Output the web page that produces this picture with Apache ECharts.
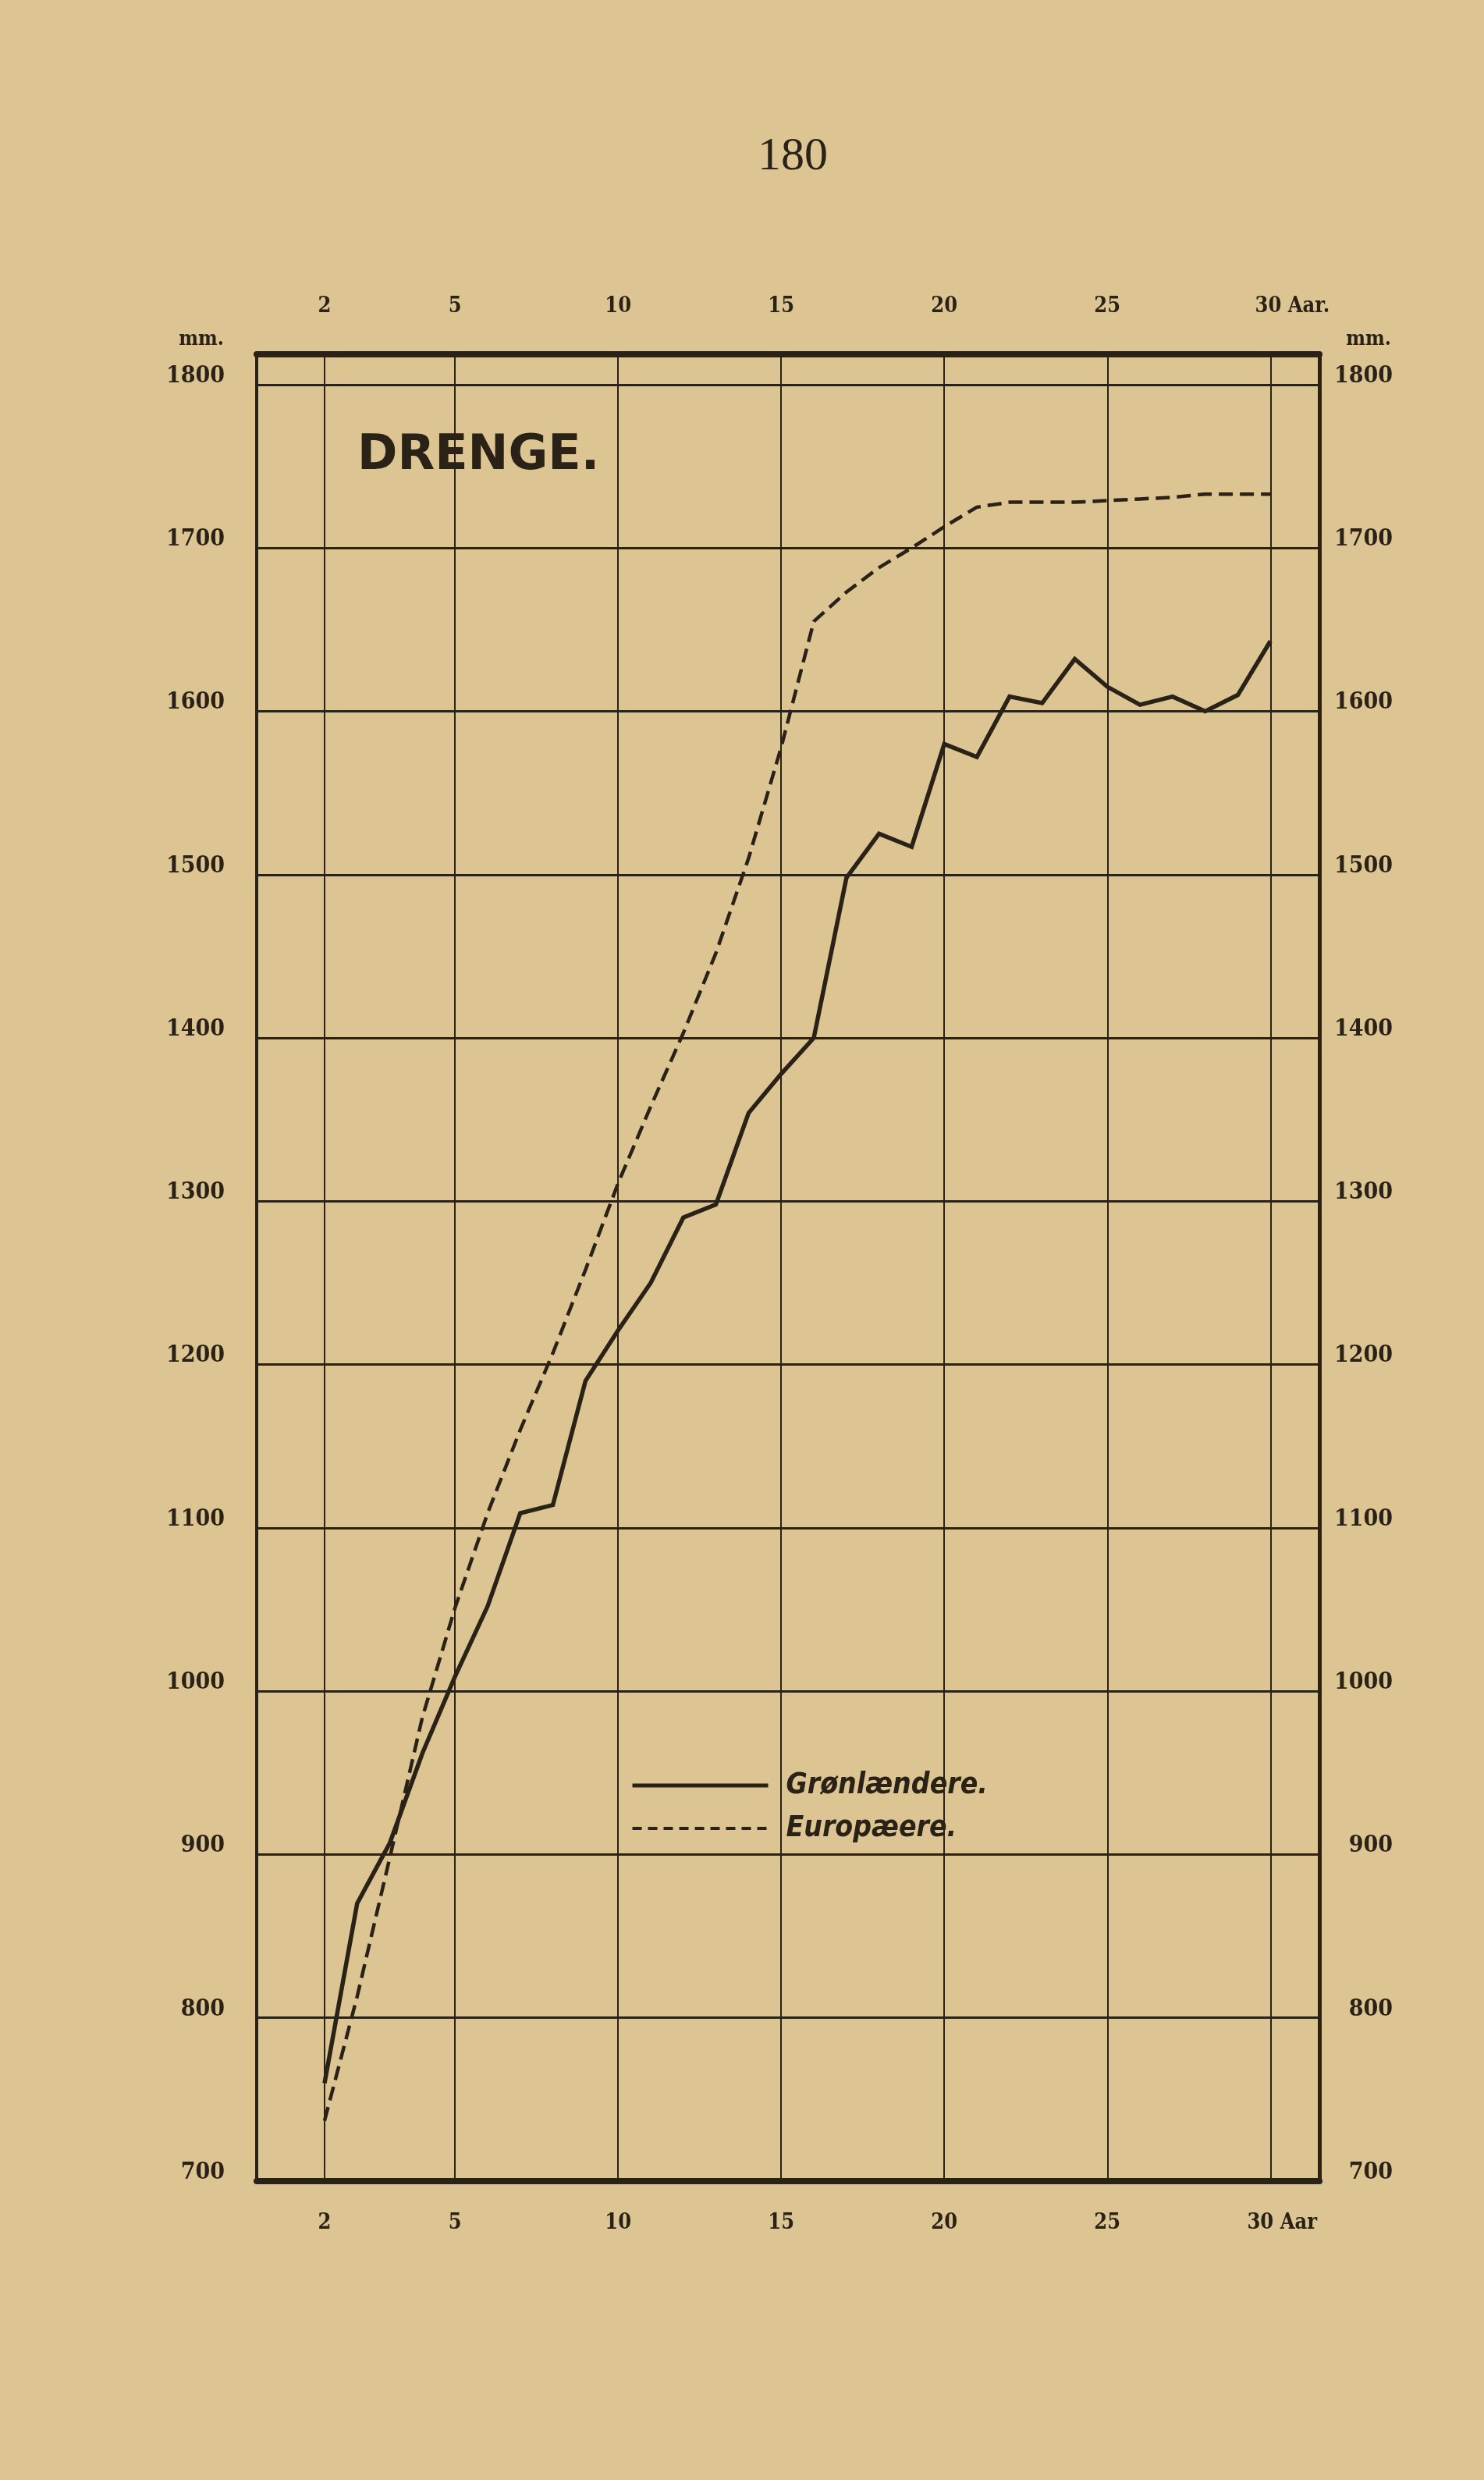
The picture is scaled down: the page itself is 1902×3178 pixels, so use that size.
<!DOCTYPE html>
<html>
<head>
<meta charset="utf-8">
<script src="https://cdn.jsdelivr.net/npm/echarts@6/dist/echarts.min.js"></script>
<style>
html,body{margin:0;padding:0;background:#dcc593;}
#chart{width:1902px;height:3178px;}
</style>
</head>
<body>
<div id="chart"></div>
<script>
// ---- data ----
const ages = [1,2,3,4,5,6,7,8,9,10,11,12,13,14,15,16,17,18,19,20,21,22,23,24,25,26,27,28,29,30];
const greenlanders = [760,870,907,962,1009,1052,1109,1114,1190,1221,1250,1290,1298,1354,1378,1400,1498,1525,1517,1580,1572,1609,1605,1632,1615,1604,1609,1600,1610,1643];
const europeans = [737,813,898,984,1051,1109,1160,1207,1258,1311,1358,1403,1452,1510,1578,1655,1673,1688,1700,1713,1725,1728,1728,1728,1729,1730,1731,1733,1733,1733];
const xTickValues = [1,5,10,15,20,25,30];
const xTickLabels = ['2','5','10','15','20','25','30'];
const xUnitTop = 'Aar.';
const xUnitBottom = 'Aar';
const yUnit = 'mm.';
const seriesNames = ['Grønlændere.','Europæere.'];
const pageNumber = '180';
const chartTitle = 'DRENGE.';

const ink = '#2a2117';
const serif = "'DejaVu Serif Condensed','DejaVu Serif',serif";
const labelFont = {fontFamily: serif, fontWeight: 'bold', color: ink};

function xLabel(unit) {
  return function (v) {
    const i = xTickValues.indexOf(v);
    if (i < 0) return '';
    if (v === 30) return '{a|' + xTickLabels[i] + ' ' + unit + '}';
    return xTickLabels[i];
  };
}
function yLabel(v) {
  return Math.abs(v % 100) < 1e-6 ? String(v) : '';
}

const chart = echarts.init(document.getElementById('chart'), null, {renderer: 'canvas'});
chart.setOption({
  animation: false,
  backgroundColor: '#dcc593',
  title: [
    {text: pageNumber, left: 966, top: 166, padding: 5,
     textStyle: {fontFamily: "'Liberation Serif',serif", fontWeight: 'normal', fontSize: 60, color: ink}},
    {text: chartTitle, left: 453, top: 549, padding: 5,
     textStyle: {fontFamily: "'DejaVu Sans',sans-serif", fontWeight: 'bold', fontSize: 62, color: ink}}
  ],
  legend: {
    orient: 'vertical', left: 803, top: 2264, padding: 5,
    itemWidth: 174, itemHeight: 14, itemGap: 17,
    itemStyle: {color: 'rgba(0,0,0,0)', borderColor: 'rgba(0,0,0,0)', borderWidth: 0},
    textStyle: {fontFamily: "'DejaVu Sans Condensed','DejaVu Sans',sans-serif", fontStyle: 'italic', fontWeight: 'bold',
                fontSize: 37, lineHeight: 38, color: ink, padding: [0, 0, 0, 18]},
    data: [
      {name: seriesNames[0], lineStyle: {width: 5}},
      {name: seriesNames[1], lineStyle: {width: 4, type: [12, 8]}}
    ]
  },
  grid: {left: 329, right: 211, top: 454, bottom: 383, containLabel: false},
  xAxis: [
    {type: 'value', position: 'bottom', min: -1.08, max: 31.5,
     axisLine: {show: true, onZero: false, lineStyle: {color: ink, width: 8}},
     axisTick: {show: false, customValues: xTickValues},
     axisLabel: {customValues: xTickValues, formatter: xLabel(xUnitBottom), margin: 40, fontSize: 27, ...labelFont,
                 rich: {a: {fontSize: 27, fontFamily: serif, fontWeight: 'bold', color: ink, padding: [0, 0, 0, 30]}}},
     splitLine: {show: true, lineStyle: {color: ink, width: 2}}},
    {type: 'value', position: 'top', min: -1.08, max: 31.5,
     axisLine: {show: true, onZero: false, lineStyle: {color: ink, width: 8}},
     axisTick: {show: false, customValues: xTickValues},
     axisLabel: {customValues: xTickValues, formatter: xLabel(xUnitTop), margin: 48, fontSize: 27, ...labelFont,
                 rich: {a: {fontSize: 27, fontFamily: serif, fontWeight: 'bold', color: ink, padding: [0, 0, 0, 56]}}},
     splitLine: {show: false}}
  ],
  yAxis: [
    {type: 'value', position: 'left', min: 700, max: 1818.6, interval: 100,
     name: yUnit, nameLocation: 'end', nameGap: 6,
     nameTextStyle: {fontFamily: serif, fontWeight: 'bold', fontSize: 26, color: ink, padding: [0, 142, 0, 0]},
     axisLine: {show: true, onZero: false, lineStyle: {color: ink, width: 4}},
     axisTick: {show: false},
     axisLabel: {formatter: yLabel, margin: 41, fontSize: 30, ...labelFont, verticalAlign: 'bottom', lineHeight: 22},
     splitLine: {show: true, lineStyle: {color: ink, width: 3}}},
    {type: 'value', position: 'right', min: 700, max: 1818.6, interval: 100,
     name: yUnit, nameLocation: 'end', nameGap: 6,
     nameTextStyle: {fontFamily: serif, fontWeight: 'bold', fontSize: 26, color: ink, padding: [0, 0, 0, 126]},
     axisLine: {show: true, onZero: false, lineStyle: {color: ink, width: 5}},
     axisTick: {show: false},
     axisLabel: {formatter: yLabel, margin: 94, align: 'right', fontSize: 30, ...labelFont, verticalAlign: 'bottom', lineHeight: 22},
     splitLine: {show: false}}
  ],
  series: [
    {name: seriesNames[0], type: 'line', xAxisIndex: 0, yAxisIndex: 0,
     data: ages.map((a, i) => [a, greenlanders[i]]), symbol: 'none',
     lineStyle: {color: ink, width: 5.5, join: 'miter'}, itemStyle: {color: ink}},
    {name: seriesNames[1], type: 'line', xAxisIndex: 0, yAxisIndex: 0,
     data: ages.map((a, i) => [a, europeans[i]]), symbol: 'none',
     lineStyle: {color: ink, width: 4.5, type: [18, 9]}, itemStyle: {color: ink}}
  ]
});
</script>
</body>
</html>
